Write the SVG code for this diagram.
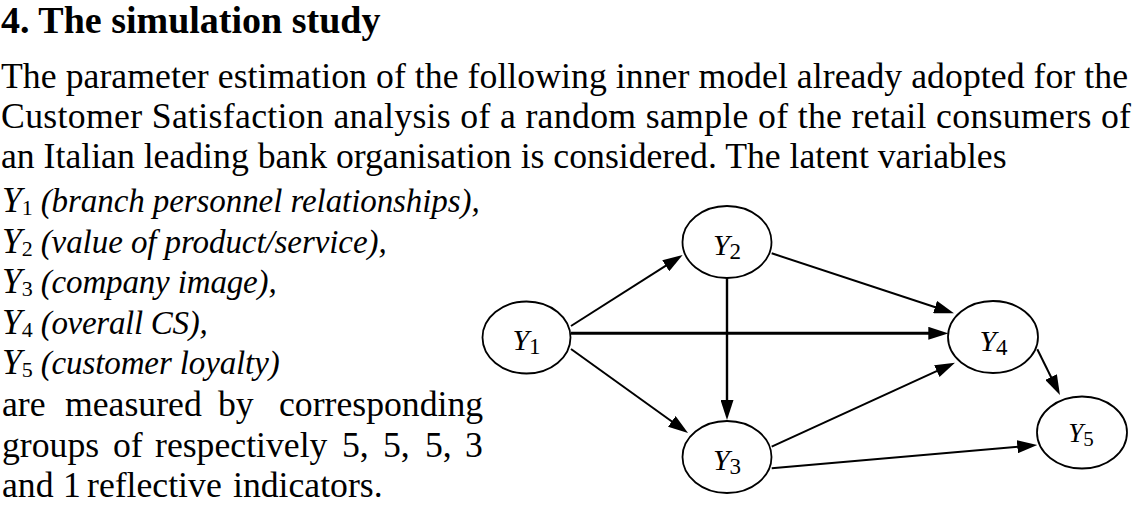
<svg xmlns="http://www.w3.org/2000/svg" width="1136" height="506" viewBox="0 0 1136 506">
<style>
text{font-family:"Liberation Serif","Times New Roman",serif;fill:#000}
.title{font-size:38px;font-weight:bold}
.body{font-size:35.7px}
.it{font-style:italic}
.desc{font-size:33px;font-style:italic}
.sub{font-size:22px;font-style:normal}
.node ellipse{fill:#fff;stroke:#000;stroke-width:1.8}
.lbl{font-size:30px;font-style:italic}
.lsub{font-size:23px;font-style:normal}
.conn line{stroke:#000;stroke-width:2;marker-end:url(#arrow)}
</style>
<defs>
<marker id="arrow" markerUnits="userSpaceOnUse" markerWidth="20" markerHeight="13" refX="10" refY="6.5" orient="auto" viewBox="0 0 20 13">
<path d="M0,0 L20,6.5 L0,13 z" fill="#000"/>
</marker>
</defs>
<rect width="1136" height="506" fill="#fff"/>
<g id="text">
<text class="title" x="1" y="33">4. The simulation study</text>
<text class="body" x="1" y="88.3" textLength="1127" lengthAdjust="spacing">The parameter estimation of the following inner model already adopted for the</text>
<text class="body" x="1" y="128.3" textLength="1130" lengthAdjust="spacing">Customer Satisfaction analysis of a random sample of the retail consumers of</text>
<text class="body" x="1" y="168.3">an Italian leading bank organisation is considered. The latent variables</text>
<text class="body" y="212.3"><tspan class="it" x="2">Y</tspan><tspan class="sub" dy="3">1</tspan><tspan class="desc" x="40.7" y="212.3" textLength="439" lengthAdjust="spacing">(branch personnel relationships),</tspan></text>
<text class="body" y="252.7"><tspan class="it" x="2">Y</tspan><tspan class="sub" dy="3">2</tspan><tspan class="desc" x="40.7" y="252.7" textLength="346" lengthAdjust="spacing">(value of product/service),</tspan></text>
<text class="body" y="293.3"><tspan class="it" x="2">Y</tspan><tspan class="sub" dy="3">3</tspan><tspan class="desc" x="40.7" y="293.3" textLength="236" lengthAdjust="spacing">(company image),</tspan></text>
<text class="body" y="334"><tspan class="it" x="2">Y</tspan><tspan class="sub" dy="3">4</tspan><tspan class="desc" x="40.7" y="334" textLength="167" lengthAdjust="spacing">(overall CS),</tspan></text>
<text class="body" y="374"><tspan class="it" x="2">Y</tspan><tspan class="sub" dy="3">5</tspan><tspan class="desc" x="40.7" y="374" textLength="239" lengthAdjust="spacing">(customer loyalty)</tspan></text>
<text class="body" y="416"><tspan x="2">are</tspan><tspan x="65">measured</tspan><tspan x="218">by</tspan><tspan x="279">corresponding</tspan></text>
<text class="body" y="456.7"><tspan x="2">groups</tspan><tspan x="113">of</tspan><tspan x="155">respectively</tspan><tspan x="342">5,</tspan><tspan x="383">5,</tspan><tspan x="425">5,</tspan><tspan x="465">3</tspan></text>
<text class="body" y="497"><tspan x="2">and</tspan><tspan x="63">1</tspan><tspan x="87">reflective</tspan><tspan x="233">indicators.</tspan></text>
</g>
<g id="connectors" class="conn">
<line x1="571" y1="326" x2="674.2" y2="260.4"/>
<line x1="571" y1="349" x2="679.9" y2="427.2"/>
<line x1="571" y1="333.3" x2="938.3" y2="333.3" style="stroke-width:3"/>
<line x1="727" y1="278" x2="727" y2="410" style="stroke-width:2.4"/>
<line x1="771.7" y1="253.3" x2="944.5" y2="310.2"/>
<line x1="771.7" y1="446.7" x2="945.9" y2="366.9"/>
<line x1="1037.3" y1="349.3" x2="1055.5" y2="386"/>
<line x1="771.7" y1="468.3" x2="1027.3" y2="445.9"/>
</g>
<g id="node-Y1" class="node">
<ellipse cx="526.5" cy="337.5" rx="44" ry="36"/>
<text class="lbl" x="526.5" y="350" text-anchor="middle">Y<tspan class="lsub" dy="4">1</tspan></text>
</g>
<g id="node-Y2" class="node">
<ellipse cx="727" cy="242" rx="44.5" ry="36"/>
<text class="lbl" x="727" y="255" text-anchor="middle">Y<tspan class="lsub" dy="4">2</tspan></text>
</g>
<g id="node-Y3" class="node">
<ellipse cx="727" cy="457" rx="44.5" ry="36"/>
<text class="lbl" x="727" y="470" text-anchor="middle">Y<tspan class="lsub" dy="4">3</tspan></text>
</g>
<g id="node-Y4" class="node">
<ellipse cx="993" cy="337" rx="45" ry="36"/>
<text class="lbl" x="993.5" y="351" text-anchor="middle">Y<tspan class="lsub" dy="4">4</tspan></text>
</g>
<g id="node-Y5" class="node">
<ellipse cx="1082" cy="432.5" rx="45" ry="36"/>
<text class="lbl" x="1081" y="442" text-anchor="middle" style="font-size:27px">Y<tspan class="lsub" dy="4" style="font-size:21px">5</tspan></text>
</g>
</svg>
